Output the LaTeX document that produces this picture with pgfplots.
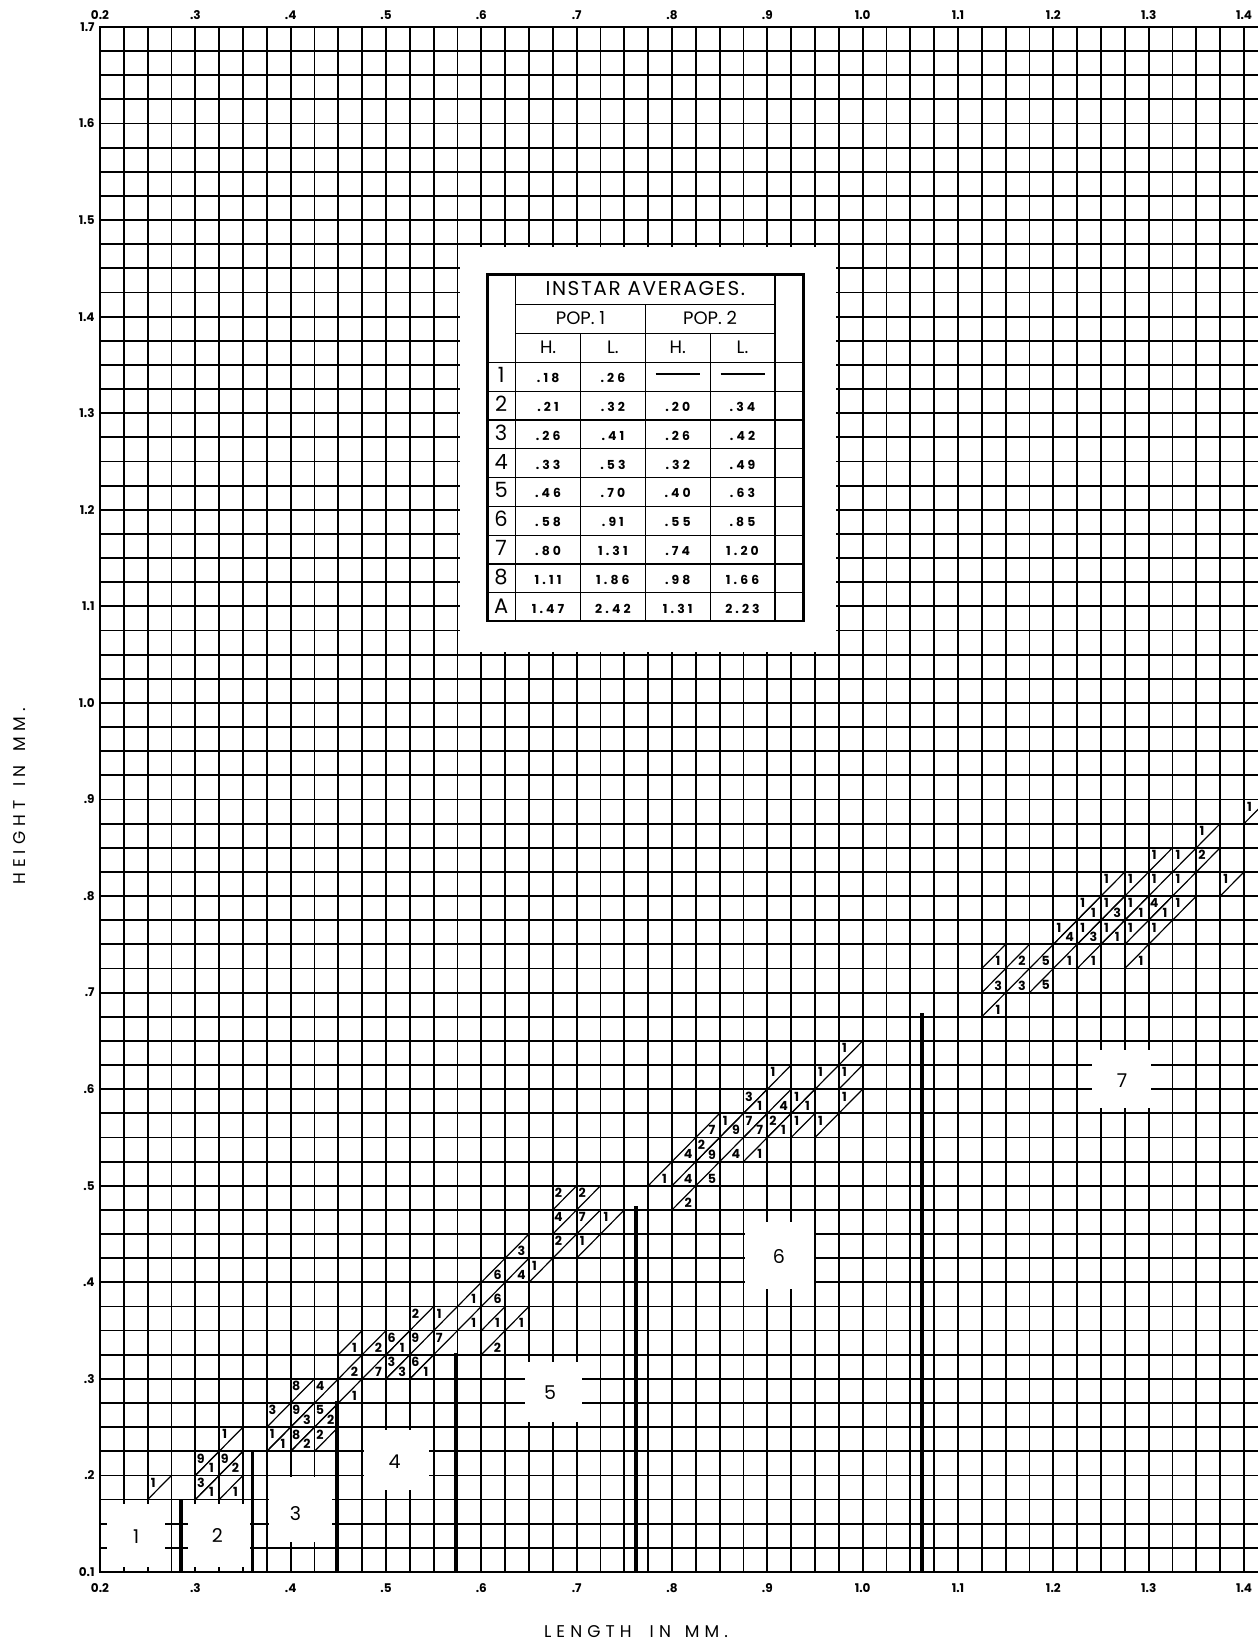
\documentclass[border=0pt]{standalone}
\usepackage{fontspec}
\setmainfont{Poppins}
\usepackage{array}
\usepackage{pgfplots}
\pgfplotsset{compat=1.18}
\usepackage{pgfplotstable}
\usetikzlibrary{calc}

% upper-left triangle counts (x0,y0 = lower-left corner of cell)
\pgfplotstableread{
x y n
0.25 0.175 1
0.3 0.175 3
0.3 0.2 9
0.325 0.2 9
0.325 0.225 1
0.375 0.225 1
0.4 0.225 8
0.425 0.225 2
0.375 0.25 3
0.4 0.25 9
0.425 0.25 5
0.4 0.275 8
0.425 0.275 4
0.5 0.3 3
0.525 0.3 6
0.5 0.325 6
0.525 0.325 9
0.55 0.325 7
0.525 0.35 2
0.55 0.35 1
0.65 0.4 1
0.675 0.425 2
0.7 0.425 1
0.675 0.45 4
0.7 0.45 7
0.725 0.45 1
0.675 0.475 2
0.7 0.475 2
0.825 0.525 2
0.85 0.55 1
0.875 0.55 7
0.9 0.55 2
0.925 0.55 1
0.95 0.55 1
0.875 0.575 3
0.925 0.575 1
0.975 0.575 1
0.9 0.6 1
0.95 0.6 1
0.975 0.6 1
0.975 0.625 1
1.2 0.75 1
1.225 0.75 1
1.25 0.75 1
1.275 0.75 1
1.3 0.75 1
1.225 0.775 1
1.25 0.775 1
1.275 0.775 1
1.3 0.775 4
1.325 0.775 1
1.25 0.8 1
1.275 0.8 1
1.3 0.8 1
1.325 0.8 1
1.375 0.8 1
1.3 0.825 1
1.325 0.825 1
1.35 0.825 2
1.35 0.85 1
1.4 0.875 1
}\uptab

% lower-right triangle counts
\pgfplotstableread{
x y n
0.3 0.175 1
0.325 0.175 1
0.3 0.2 1
0.325 0.2 2
0.375 0.225 1
0.4 0.225 2
0.4 0.25 3
0.425 0.25 2
0.45 0.275 1
0.45 0.3 2
0.475 0.3 7
0.5 0.3 3
0.525 0.3 1
0.45 0.325 1
0.475 0.325 2
0.5 0.325 1
0.6 0.325 2
0.575 0.35 1
0.6 0.35 1
0.625 0.35 1
0.575 0.375 1
0.6 0.375 6
0.6 0.4 6
0.625 0.4 4
0.625 0.425 3
0.8 0.475 2
0.775 0.5 1
0.8 0.5 4
0.825 0.5 5
0.8 0.525 4
0.825 0.525 9
0.85 0.525 4
0.875 0.525 1
0.825 0.55 7
0.85 0.55 9
0.875 0.55 7
0.9 0.55 1
0.875 0.575 1
0.9 0.575 4
0.925 0.575 1
1.125 0.675 1
1.125 0.7 3
1.15 0.7 3
1.175 0.7 5
1.125 0.725 1
1.15 0.725 2
1.175 0.725 5
1.2 0.725 1
1.225 0.725 1
1.275 0.725 1
1.2 0.75 4
1.225 0.75 3
1.25 0.75 1
1.225 0.775 1
1.25 0.775 3
1.275 0.775 1
1.3 0.775 1
}\lotab

% instar labels
\pgfplotstableread{
x y n
0.238 0.137 1
0.323 0.138 2
0.405 0.161 3
0.509 0.214 4
0.672 0.286 5
0.912 0.427 6
1.272 0.609 7
}\instab

\newcommand\Ti[1]{{\fontsize{10}{11}\selectfont\addfontfeatures{LetterSpace=8}#1}}
\newcommand\Po[1]{{\fontsize{9}{10}\selectfont #1}}
\newcommand\Va[1]{{\fontsize{6.2}{6.5}\selectfont\bfseries\addfontfeatures{LetterSpace=25}#1}}
\newcommand\Ro[1]{{\fontsize{10.5}{11}\selectfont #1}}
\newcommand\Da{\rule[4pt]{22pt}{0.6pt}}
\newcommand\hs{\rule[-4.2pt]{0pt}{14.5pt}}
\newcommand\ds{\rule[-4pt]{0pt}{13.8pt}}

\begin{document}
\begin{tikzpicture}
\begin{axis}[
  scale only axis, width=579.5pt, height=772.5pt,
  xmin=0.2, xmax=1.4157, ymin=0.1, ymax=1.7,
  xtick={0.2,0.225,0.25,0.275,0.3,0.325,0.35,0.375,0.4,0.425,0.45,0.475,0.5,0.525,0.55,0.575,0.6,0.625,0.65,0.675,0.7,0.725,0.75,0.775,0.8,0.825,0.85,0.875,0.9,0.925,0.95,0.975,1.0,1.025,1.05,1.075,1.1,1.125,1.15,1.175,1.2,1.225,1.25,1.275,1.3,1.325,1.35,1.375,1.4},
  xticklabels={0.2,{},{},{},.3,{},{},{},.4,{},{},{},.5,{},{},{},.6,{},{},{},.7,{},{},{},.8,{},{},{},.9,{},{},{},1.0,{},{},{},1.1,{},{},{},1.2,{},{},{},1.3,{},{},{},1.4},
  ytick={0.1,0.125,0.15,0.175,0.2,0.225,0.25,0.275,0.3,0.325,0.35,0.375,0.4,0.425,0.45,0.475,0.5,0.525,0.55,0.575,0.6,0.625,0.65,0.675,0.7,0.725,0.75,0.775,0.8,0.825,0.85,0.875,0.9,0.925,0.95,0.975,1.0,1.025,1.05,1.075,1.1,1.125,1.15,1.175,1.2,1.225,1.25,1.275,1.3,1.325,1.35,1.375,1.4,1.425,1.45,1.475,1.5,1.525,1.55,1.575,1.6,1.625,1.65,1.675,1.7},
  yticklabels={0.1,{},{},{},.2,{},{},{},.3,{},{},{},.4,{},{},{},.5,{},{},{},.6,{},{},{},.7,{},{},{},.8,{},{},{},.9,{},{},{},1.0,{},{},{},1.1,{},{},{},1.2,{},{},{},1.3,{},{},{},1.4,{},{},{},1.5,{},{},{},1.6,{},{},{},1.7},
  grid=major,
  major grid style={black, line width=0.9pt},
  major tick length=0pt,
  axis line style={black, line width=0.9pt},
  xticklabel style={font=\fontsize{6}{6.5}\selectfont\bfseries, inner sep=0pt, yshift=-5.5pt},
  yticklabel style={font=\fontsize{6}{6.5}\selectfont\bfseries, inner sep=0pt, xshift=-2.5pt},
  xlabel={\addfontfeatures{LetterSpace=30}LENGTH\hspace{9pt}IN\hspace{7pt}MM.},
  xlabel style={at={(axis description cs:0.4625,-0.0388)}, anchor=center, font=\fontsize{8.5}{9}\selectfont},
  ylabel={\addfontfeatures{LetterSpace=30}HEIGHT\hspace{7pt}IN\hspace{7pt}MM.},
  ylabel style={at={(axis description cs:-0.069,0.502)}, anchor=center, font=\fontsize{8.5}{9}\selectfont},
  every node near coord/.append style={text=black, anchor=center, inner sep=0pt},
]
\coordinate (ll) at (rel axis cs:0,0);
\coordinate (ur) at (rel axis cs:1,1);

% white boxes (instar labels and table backing)
\addplot[fill=white, draw=none] coordinates {(0.207,0.105) (0.268,0.105) (0.268,0.170) (0.207,0.170)} --cycle;
\addplot[fill=white, draw=none] coordinates {(0.292,0.105) (0.357,0.105) (0.357,0.170) (0.292,0.170)} --cycle;
\addplot[fill=white, draw=none] coordinates {(0.377,0.131) (0.443,0.131) (0.443,0.198) (0.377,0.198)} --cycle;
\addplot[fill=white, draw=none] coordinates {(0.477,0.185) (0.545,0.185) (0.545,0.247) (0.477,0.247)} --cycle;
\addplot[fill=white, draw=none] coordinates {(0.646,0.255) (0.706,0.255) (0.706,0.317) (0.646,0.317)} --cycle;
\addplot[fill=white, draw=none] coordinates {(0.877,0.393) (0.949,0.393) (0.949,0.462) (0.877,0.462)} --cycle;
\addplot[fill=white, draw=none] coordinates {(1.240,0.581) (1.302,0.581) (1.302,0.641) (1.240,0.641)} --cycle;
\addplot[fill=white, draw=none] coordinates {(0.578,1.053) (0.972,1.053) (0.972,1.472) (0.578,1.472)} --cycle;

% diagonals of the tallied cells
\addplot[black, line width=0.6pt, mark=none, quiver={u=0.025, v=0.025}] table[x=x, y=y] {\uptab};
\addplot[black, line width=0.6pt, mark=none, quiver={u=0.025, v=0.025}] table[x=x, y=y] {\lotab};

% counts
\addplot[draw=none, mark=none, nodes near coords, point meta=explicit symbolic,
  every node near coord/.append style={font=\fontsize{6.3}{6.5}\selectfont\bfseries}]
  table[x expr=\thisrow{x}+0.0058, y expr=\thisrow{y}+0.0175, meta=n] {\uptab};
\addplot[draw=none, mark=none, nodes near coords, point meta=explicit symbolic,
  every node near coord/.append style={font=\fontsize{6.3}{6.5}\selectfont\bfseries}]
  table[x expr=\thisrow{x}+0.0170, y expr=\thisrow{y}+0.0075, meta=n] {\lotab};

% instar separators
\addplot[black, line width=1.8pt, mark=none] coordinates {(0.285,0.1) (0.285,0.175)};
\addplot[black, line width=1.8pt, mark=none] coordinates {(0.360,0.1) (0.360,0.225)};
\addplot[black, line width=1.8pt, mark=none] coordinates {(0.448,0.1) (0.448,0.277)};
\addplot[black, line width=1.8pt, mark=none] coordinates {(0.573,0.1) (0.573,0.327)};
\addplot[black, line width=1.8pt, mark=none] coordinates {(0.762,0.1) (0.762,0.479)};
\addplot[black, line width=1.8pt, mark=none] coordinates {(1.062,0.1) (1.062,0.679)};

% instar numbers
\addplot[draw=none, mark=none, nodes near coords, point meta=explicit symbolic,
  every node near coord/.append style={font=\fontsize{9.5}{10}\selectfont}]
  table[x=x, y=y, meta=n] {\instab};

% table of instar averages
\node[fill=white, draw=black, line width=1.4pt, inner sep=0pt, anchor=center] at (axis cs:0.772,1.264) {%
\setlength\tabcolsep{0pt}\renewcommand\arraystretch{0}\setlength\arrayrulewidth{0.6pt}%
\begin{tabular}{w{c}{14pt}|w{c}{31.8pt}|w{c}{31.8pt}|w{c}{31.8pt}|w{c}{31.8pt}|w{c}{14pt}}
\hs & \multicolumn{4}{c|}{\Ti{INSTAR AVERAGES.}} & \\ \cline{2-5}
\hs & \multicolumn{2}{c|}{\Po{POP. 1}} & \multicolumn{2}{c|}{\Po{POP. 2}} & \\ \cline{2-5}
\hs & \Po{H.} & \Po{L.} & \Po{H.} & \Po{L.} & \\ \hline
\ds\Ro{1} & \Va{.18} & \Va{.26} & \Da & \Da & \\ \hline
\ds\Ro{2} & \Va{.21} & \Va{.32} & \Va{.20} & \Va{.34} & \\ \hline
\ds\Ro{3} & \Va{.26} & \Va{.41} & \Va{.26} & \Va{.42} & \\ \hline
\ds\Ro{4} & \Va{.33} & \Va{.53} & \Va{.32} & \Va{.49} & \\ \hline
\ds\Ro{5} & \Va{.46} & \Va{.70} & \Va{.40} & \Va{.63} & \\ \hline
\ds\Ro{6} & \Va{.58} & \Va{.91} & \Va{.55} & \Va{.85} & \\ \hline
\ds\Ro{7} & \Va{.80} & \Va{1.31} & \Va{.74} & \Va{1.20} & \\ \hline
\ds\Ro{8} & \Va{1.11} & \Va{1.86} & \Va{.98} & \Va{1.66} & \\ \hline
\ds\Ro{A} & \Va{1.47} & \Va{2.42} & \Va{1.31} & \Va{2.23} & \\
\end{tabular}};
\end{axis}

% top tick labels
\begin{axis}[
  scale only axis, width=579.5pt, height=772.5pt,
  xmin=0.2, xmax=1.4157, ymin=0.1, ymax=1.7,
  axis x line*=top, axis y line=none,
  axis line style={draw=none},
  xtick={0.2,0.3,0.4,0.5,0.6,0.7,0.8,0.9,1.0,1.1,1.2,1.3,1.4},
  xticklabels={0.2,.3,.4,.5,.6,.7,.8,.9,1.0,1.1,1.2,1.3,1.4},
  major tick length=0pt,
  xticklabel style={font=\fontsize{6}{6.5}\selectfont\bfseries, inner sep=0pt, yshift=3.5pt},
]
\end{axis}
\pgfresetboundingbox
\path[use as bounding box] ($(ll)+(-50pt,-35pt)$) rectangle ($(ur)+(-0.6pt,13.5pt)$);
\end{tikzpicture}
\end{document}
